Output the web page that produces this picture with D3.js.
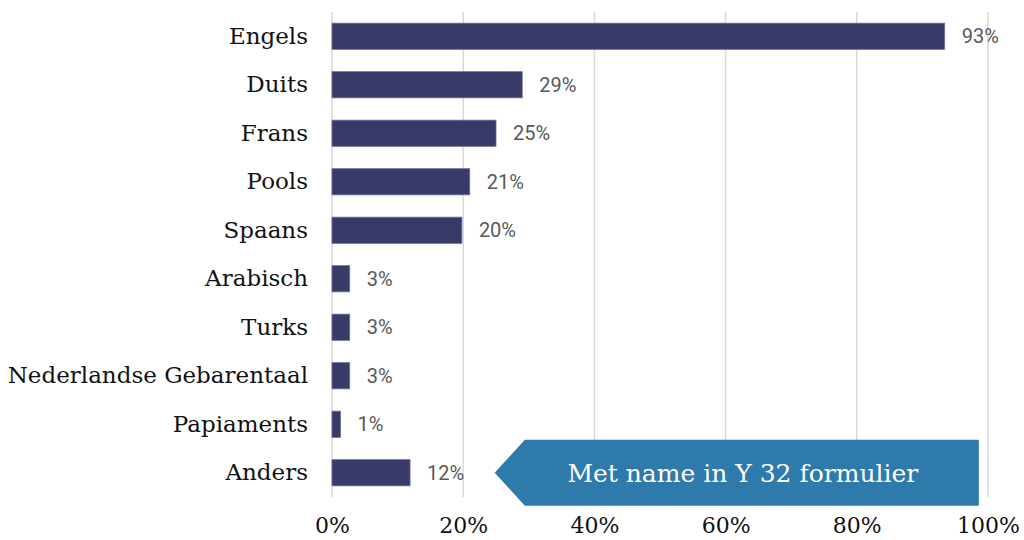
<!DOCTYPE html>
<html>
<head>
<meta charset="utf-8">
<script src="https://cdn.jsdelivr.net/npm/d3@7"></script>
<style>
    body { margin: 0; background: #fff; }
    svg { display: block; }
</style>
</head>
<body>
<svg id="chart"></svg>
<script>
// Data
const languages = ['Engels', 'Duits', 'Frans', 'Pools', 'Spaans', 'Arabisch', 'Turks',
    'Nederlandse Gebarentaal', 'Papiaments', 'Anders'];
const shares = [93.4, 29, 25, 21, 19.8, 2.7, 2.7, 2.7, 1.3, 11.9];
const shareLabels = ['93%', '29%', '25%', '21%', '20%', '3%', '3%', '3%', '1%', '12%'];
const xTicks = [0, 20, 40, 60, 80, 100];
const calloutText = 'Met name in Y 32 formulier';

const data = languages.map((lang, i) => ({lang, value: shares[i], label: shareLabels[i]}));

const width = 1024, height = 540;
const margin = {top: 12, right: 36, bottom: 43, left: 332};
const innerW = width - margin.left - margin.right;
const innerH = height - margin.top - margin.bottom;

const svg = d3.select('#chart')
    .attr('width', width)
    .attr('height', height);

const g = svg.append('g')
    .attr('transform', `translate(${margin.left},${margin.top})`);

// Scales
const xScale = d3.scaleLinear().domain([0, 100]).range([0, innerW]);
const yScale = d3.scaleBand()
    .domain(languages)
    .range([0, innerH])
    .paddingInner(0.46)
    .paddingOuter(0.23);

// Gridlines
g.selectAll('.grid')
    .data(xTicks)
    .enter()
    .append('line')
    .attr('class', 'grid')
    .attr('x1', d => xScale(d))
    .attr('x2', d => xScale(d))
    .attr('y1', 0)
    .attr('y2', innerH)
    .attr('stroke', '#d9d9d9')
    .attr('stroke-width', 1.5);

// X axis labels
const xAxis = g.append('g')
    .attr('transform', `translate(0,${innerH})`)
    .call(d3.axisBottom(xScale).tickValues(xTicks).tickFormat(d => d + '%').tickSize(0).tickPadding(20));
xAxis.select('.domain').remove();
xAxis.selectAll('text')
    .style('font-family', '"DejaVu Serif", serif')
    .style('font-size', '22px')
    .attr('fill', '#111');

// Y axis labels
const yAxis = g.append('g')
    .call(d3.axisLeft(yScale).tickSize(0).tickPadding(24));
yAxis.select('.domain').remove();
yAxis.selectAll('text')
    .style('font-family', '"DejaVu Serif", serif')
    .style('font-size', '23px')
    .attr('fill', '#111');

// Bars
g.selectAll('.bar')
    .data(data)
    .enter()
    .append('rect')
    .attr('class', 'bar')
    .attr('x', 0)
    .attr('y', d => yScale(d.lang))
    .attr('width', d => xScale(d.value))
    .attr('height', yScale.bandwidth())
    .attr('fill', '#383a67')
    .attr('stroke', '#6e7199')
    .attr('stroke-width', 0.8);

// Value labels
g.selectAll('.label')
    .data(data)
    .enter()
    .append('text')
    .attr('class', 'label')
    .attr('x', d => xScale(d.value) + 17)
    .attr('y', d => yScale(d.lang) + yScale.bandwidth() / 2)
    .attr('dy', '0.35em')
    .style('font-family', 'Roboto, sans-serif')
    .style('font-size', '20px')
    .style('fill', '#595959')
    .text(d => d.label);

// Callout arrow
const cy = yScale('Anders') + yScale.bandwidth() / 2;
const cx0 = xScale(24.8), cx1 = xScale(29.4), cx2 = xScale(98.6);
const ch = 33;
g.append('path')
    .attr('d', `M${cx0},${cy} L${cx1},${cy - ch} L${cx2},${cy - ch} L${cx2},${cy + ch} L${cx1},${cy + ch} Z`)
    .attr('fill', '#2e7aab');
g.append('text')
    .attr('x', (cx1 + cx2) / 2 - 9)
    .attr('y', cy)
    .attr('dy', '0.35em')
    .attr('text-anchor', 'middle')
    .style('font-family', '"DejaVu Serif", serif')
    .style('font-size', '25px')
    .style('fill', '#fff')
    .text(calloutText);
</script>
</body>
</html>
